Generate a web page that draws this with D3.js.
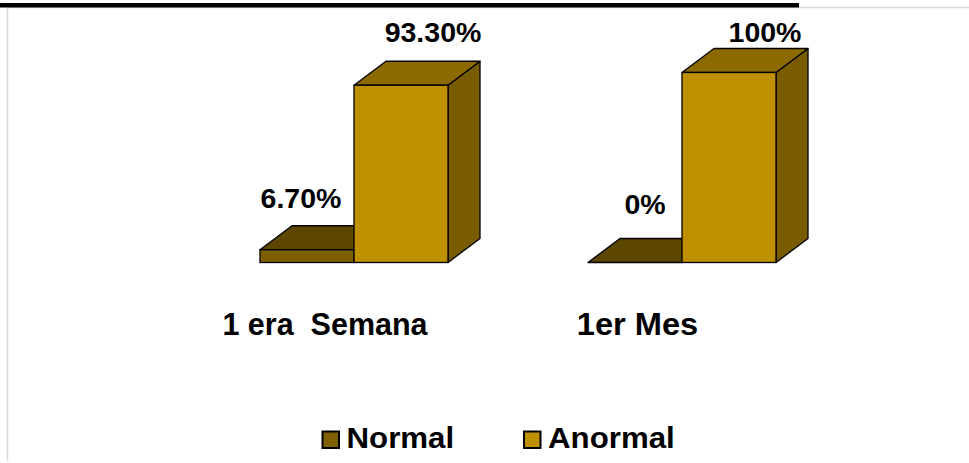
<!DOCTYPE html>
<html>
<head>
<meta charset="utf-8">
<script src="https://cdn.jsdelivr.net/npm/d3@7"></script>
<style>
  html, body { margin: 0; padding: 0; background: #ffffff; }
  svg { display: block; font-family: "Liberation Sans", Arial, sans-serif; }
</style>
</head>
<body>
<svg id="chart" width="969" height="463"></svg>
<script>
// Periods compared and the two result series (percent)
const categories = ["1 era  Semana", "1er Mes"];
const series = ["Normal", "Anormal"];
const normalValues = [6.7, 0];
const anormalValues = [93.3, 100];
const valueLabels = [["6.70%", "0%"], ["93.30%", "100%"]];

const svg = d3.select("#chart");

// Face colours of each 3D column: front, top, side
const palette = {
  Normal:  { front: "#7F6000", top: "#5C4600", side: "#6A5000" },
  Anormal: { front: "#BF9000", top: "#8C6A00", side: "#7A5C00" }
};

// Frame of the sheet area and the underline of the heading
svg.append("line").attr("x1", 7.5).attr("x2", 969).attr("y1", 7.5).attr("y2", 7.5)
  .attr("stroke", "#d9d9d9").attr("stroke-width", 1.5);
svg.append("line").attr("x1", 7.5).attr("x2", 7.5).attr("y1", 7.5).attr("y2", 461)
  .attr("stroke", "#d9d9d9").attr("stroke-width", 1.5);
svg.append("rect").attr("x", 0).attr("y", 3).attr("width", 799).attr("height", 4.5)
  .attr("fill", "#000");

// Scales
const x0 = d3.scaleBand().domain(categories).range([260, 776])
  .paddingInner(140 / 328).paddingOuter(0);
const x1 = d3.scaleBand().domain(series).range([0, x0.bandwidth()]);
const y = d3.scaleLinear().domain([0, 100]).range([262.5, 72.5]);

// Oblique depth of the columns
const dx = 32, dy = -24;

const rows = [];
categories.forEach((c, i) => {
  rows.push({ cat: c, s: "Normal", v: normalValues[i], label: valueLabels[0][i], i });
  rows.push({ cat: c, s: "Anormal", v: anormalValues[i], label: valueLabels[1][i], i });
});

const bars = svg.append("g").attr("class", "bars");
rows.forEach(d => {
  const xl = x0(d.cat) + x1(d.s);
  const xr = xl + x1.bandwidth();
  const yt = y(d.v), yb = y(0);
  const col = palette[d.s];
  const g = bars.append("g");
  const pts = a => a.map(p => p.join(",")).join(" ");
  // side face
  g.append("polygon")
    .attr("points", pts([[xr, yt], [xr + dx, yt + dy], [xr + dx, yb + dy], [xr, yb]]))
    .attr("fill", col.side).attr("stroke", "#000").attr("stroke-width", 1.3)
    .attr("stroke-linejoin", "round");
  // top face
  g.append("polygon")
    .attr("points", pts([[xl, yt], [xl + dx, yt + dy], [xr + dx, yt + dy], [xr, yt]]))
    .attr("fill", col.top).attr("stroke", "#000").attr("stroke-width", 1.3)
    .attr("stroke-linejoin", "round");
  // front face
  g.append("rect")
    .attr("x", xl).attr("y", yt).attr("width", xr - xl).attr("height", yb - yt)
    .attr("fill", col.front).attr("stroke", "#000").attr("stroke-width", 1.3);
});

// Value labels, placed over each column
const labelNudge = {
  "Normal-0": [-6, -42], "Normal-1": [10, -49],
  "Anormal-0": [32, -43], "Anormal-1": [36, -31]
};
rows.forEach(d => {
  const n = labelNudge[d.s + "-" + d.i];
  const cx = x0(d.cat) + x1(d.s) + x1.bandwidth() / 2 + n[0];
  svg.append("text")
    .attr("x", cx).attr("y", y(d.v) + n[1])
    .attr("text-anchor", "middle")
    .attr("font-size", 28.5).attr("font-weight", "bold").attr("fill", "#000")
    .text(d.label);
});

// Category labels under the columns
const catNudge = [-29, -44.5];
const catStretch = [1, 1.07];
categories.forEach((c, i) => {
  const cx = x0(c) + x0.bandwidth() / 2 + catNudge[i];
  svg.append("text")
    .attr("transform", `translate(${cx},335) scale(${catStretch[i]},1)`)
    .attr("text-anchor", "middle").attr("xml:space", "preserve")
    .style("white-space", "pre")
    .attr("font-size", 30.5).attr("font-weight", "bold").attr("fill", "#000")
    .text(c);
});

// Legend
const legendX = [322, 523.5];
series.forEach((s, i) => {
  const g = svg.append("g").attr("transform", `translate(${legendX[i]},431)`);
  g.append("rect").attr("x", 0.5).attr("y", 0.5).attr("width", 16.5).attr("height", 16.5)
    .attr("fill", palette[s].front).attr("stroke", "#000").attr("stroke-width", 2);
  g.append("text").attr("transform", "translate(24.5,17.3) scale(1.06,1)")
    .attr("font-size", 29.5).attr("font-weight", "bold").attr("fill", "#000")
    .text(s);
});
</script>
</body>
</html>
